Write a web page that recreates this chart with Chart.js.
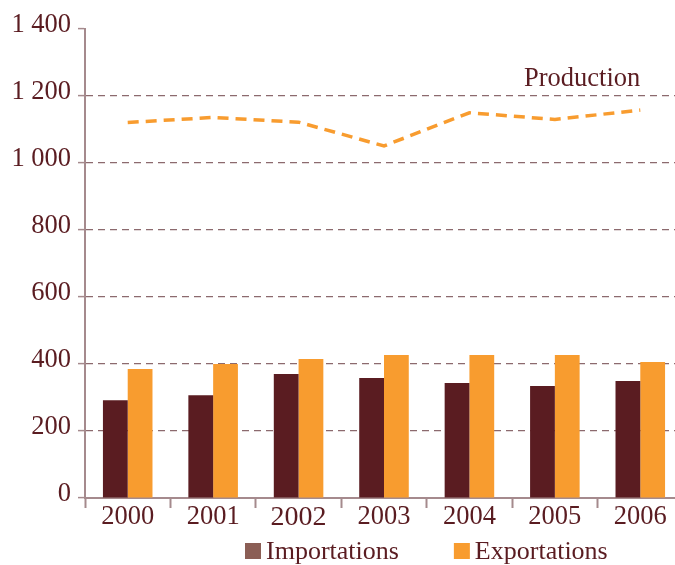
<!DOCTYPE html>
<html>
<head>
<meta charset="utf-8">
<script src="https://cdn.jsdelivr.net/npm/chart.js@4"></script>
<style>
  html, body { margin: 0; padding: 0; overflow: hidden; background: #fff; }
  canvas { display: block; }
</style>
</head>
<body>
<canvas id="chart" width="690" height="565"></canvas>
<script>
// Values
const years = ['2000', '2001', '2002', '2003', '2004', '2005', '2006']
const importations = [292, 307, 370, 358, 343, 334, 349]
const exportations = [385, 400, 415, 427, 427, 427, 406]
const production = [1121, 1136, 1122, 1051, 1150, 1130, 1158]
const yTicks = [0, 200, 400, 600, 800, 1000, 1200, 1400]

const text = {
    imp: 'Importations',
    exp: 'Exportations',
    prod: 'Production'
}

const dark = '#5a1c21'
const orange = '#f89c2f'
const impLegend = '#8b5e55'
const gridCol = '#8c6a6e'
const axisCol = '#a58a8d'
const serif = '"Liberation Serif", "DejaVu Serif", serif'

function fmt(v){
    // thousands separated by a space
    return String(v).replace(/\B(?=(\d{3})+(?!\d))/g, ' ')
}

// draws the "Production" label and the bottom legend
const extras = {
    id: 'extras',
    afterDraw(chart){
        const ctx = chart.ctx
        const x = chart.scales.x
        const y = chart.scales.y
        ctx.save()
        ctx.fillStyle = dark
        ctx.font = '26.5px ' + serif
        ctx.textAlign = 'right'
        ctx.textBaseline = 'alphabetic'
        ctx.fillText(text.prod, x.getPixelForValue(6), y.getPixelForValue(1200) - 10)

        // legend
        ctx.font = '26px ' + serif
        const items = [[impLegend, text.imp], [orange, text.exp]]
        let lx = 245
        const ly = 543
        ctx.textAlign = 'left'
        for (const [col, label] of items){
            ctx.fillStyle = col
            ctx.fillRect(lx, ly, 16, 16)
            ctx.fillStyle = dark
            ctx.fillText(label, lx + 21, ly + 16)
            lx += 21 + ctx.measureText(label).width + 55
        }
        ctx.restore()
    }
}

const data = {
    labels: years,
    datasets: [
        {
            type: 'line',
            label: text.prod,
            data: production,
            borderColor: orange,
            backgroundColor: orange,
            borderWidth: 3.5,
            borderDash: [11, 7],
            pointRadius: 0,
            tension: 0,
            fill: false
        },
        {
            type: 'bar',
            label: text.imp,
            data: importations,
            backgroundColor: dark,
            categoryPercentage: 0.58,
            barPercentage: 1
        },
        {
            type: 'bar',
            label: text.exp,
            data: exportations,
            backgroundColor: orange,
            categoryPercentage: 0.58,
            barPercentage: 1
        }
    ]
}

const options = {
    responsive: false,
    animation: false,
    layout: { padding: { top: 29, right: 7, left: 0, bottom: 0 } },
    plugins: {
        legend: { display: false },
        tooltip: { enabled: false }
    },
    scales: {
        x: {
            offset: true,
            grid: {
                offset: true,
                drawOnChartArea: false,
                drawTicks: true,
                tickLength: 10,
                tickColor: axisCol,
                tickWidth: 2
            },
            border: { color: axisCol, width: 2 },
            ticks: {
                color: dark,
                padding: -4,
                font: (c) => ({ family: serif, size: c.index === 2 ? 28 : 26.5, lineHeight: 1 })
            },
            afterFit: (s) => { s.height = 67 }
        },
        y: {
            min: 0,
            max: 1400,
            afterBuildTicks: (s) => { s.ticks = yTicks.map(v => ({ value: v })) },
            grid: {
                color: (c) => (c.tick && c.tick.value === 1400) ? 'rgba(0,0,0,0)' : gridCol,
                lineWidth: 1.2,
                borderDash: [7, 5],
                tickLength: 7,
                tickColor: axisCol,
                tickWidth: 1.5,
                tickBorderDash: []
            },
            border: { color: axisCol, width: 2, dash: [7, 5] },
            ticks: {
                color: dark,
                padding: 7,
                labelOffset: -4,
                font: { family: serif, size: 26.5 },
                callback: (v) => fmt(v)
            },
            afterFit: (s) => { s.width = 85 }
        }
    }
}

new Chart(document.getElementById('chart'), { data: data, options: options, plugins: [extras] })
</script>
</body>
</html>
